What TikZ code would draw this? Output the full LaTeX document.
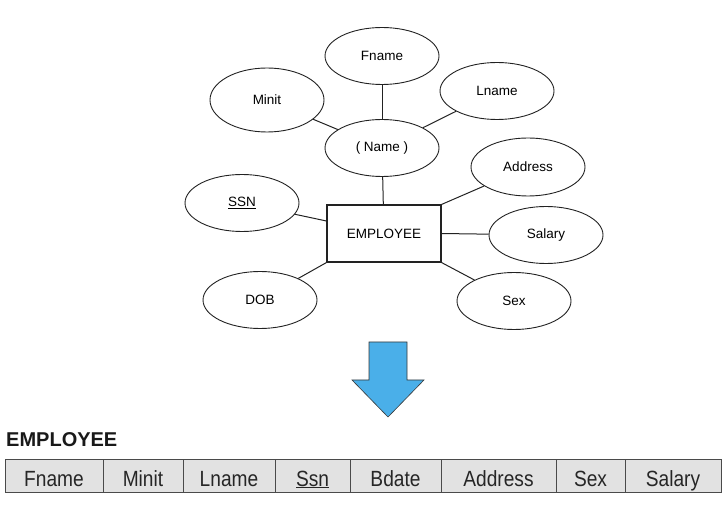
\documentclass[tikz,border=0pt]{standalone}
\usepackage{fontspec}
\setmainfont{Liberation Sans}
\newfontfamily\tabfont[FakeStretch=0.87]{Liberation Sans}
\usetikzlibrary{shapes.geometric}
\definecolor{linec}{HTML}{222222}
\definecolor{arrowblue}{HTML}{4AAFE9}
\definecolor{cellfill}{HTML}{E2E2E2}
\definecolor{cellline}{HTML}{4A4A4A}
\begin{document}
\begin{tikzpicture}[x=1pt,y=-1pt,
  attr/.style={ellipse, draw=linec, line width=0.9pt, minimum width=114pt, minimum height=57pt, inner sep=0pt, font=\fontsize{13.5}{15}\selectfont, text=black},
  ent/.style={rectangle, draw=linec, line width=1.1pt, minimum width=114pt, minimum height=57pt, inner sep=0pt, font=\fontsize{13.5}{15}\selectfont, text=black},
  conn/.style={draw=linec, line width=1pt},
  cell/.style={rectangle, draw=cellline, fill=cellfill, line width=1pt, minimum height=33pt, inner sep=0pt, text height=19.5pt, text depth=0.5pt, font=\tabfont\fontsize{22}{24}\selectfont, text=black!85},
  bigarrow/.style={fill=arrowblue, draw=linec!90, line width=0.6pt, line join=miter}]
\useasboundingbox (0,0) rectangle (726,510);

% ER part
\node[attr] (fname) at (382,56) {Fname};
\node[attr, minimum height=64pt] (minit) at (267,100) {Minit};
\node[attr] (lname) at (497,91) {Lname};
\node[attr] (name) at (382,148) {( Name )};
\node[attr, minimum height=58pt] (addr) at (528,167) {Address};
\node[attr] (ssn) at (242,203) {\underline{SSN}};
\node[ent] (emp) at (384,233.5) {EMPLOYEE};
\node[attr] (sal) at (546,235) {Salary};
\node[attr] (dob) at (260,300) {DOB};
\node[attr] (sex) at (514,301) {Sex};

\draw[conn] (fname) -- (name);
\draw[conn] (minit) -- (name);
\draw[conn] (lname) -- (name);
\draw[conn] (name) -- (emp);
\draw[conn] (emp.north east) -- (addr);
\draw[conn] (emp.east) -- (sal);
\draw[conn] (emp.south east) -- (sex);
\draw[conn] (emp.south west) -- (dob);
\draw[conn] (ssn) -- ([yshift=12.5pt]emp.west);

% arrow
\draw[bigarrow] (369,342) -- (407,342) -- (407,380) -- (424,380) -- (388,417) -- (352,380) -- (369,380) -- cycle;

% relation
\node[anchor=west, inner sep=0pt, font=\bfseries\fontsize{20}{22}\selectfont, text=black!90] (rel) at (6,440) {EMPLOYEE};

\node[cell, minimum width=98pt] (c1) at (54,476.5) {Fname};
\node[cell, minimum width=80pt] (c2) at (143,476.5) {Minit};
\node[cell, minimum width=92pt] (c3) at (229,476.5) {Lname};
\node[cell, minimum width=75pt] (c4) at (312.5,476.5) {\underline{Ssn}};
\node[cell, minimum width=91pt] (c5) at (395.5,476.5) {Bdate};
\node[cell, minimum width=115pt] (c6) at (498.5,476.5) {Address};
\node[cell, minimum width=69pt] (c7) at (590.5,476.5) {Sex};
\node[cell, minimum width=96pt] (c8) at (673,476.5) {Salary};
\end{tikzpicture}
\end{document}
